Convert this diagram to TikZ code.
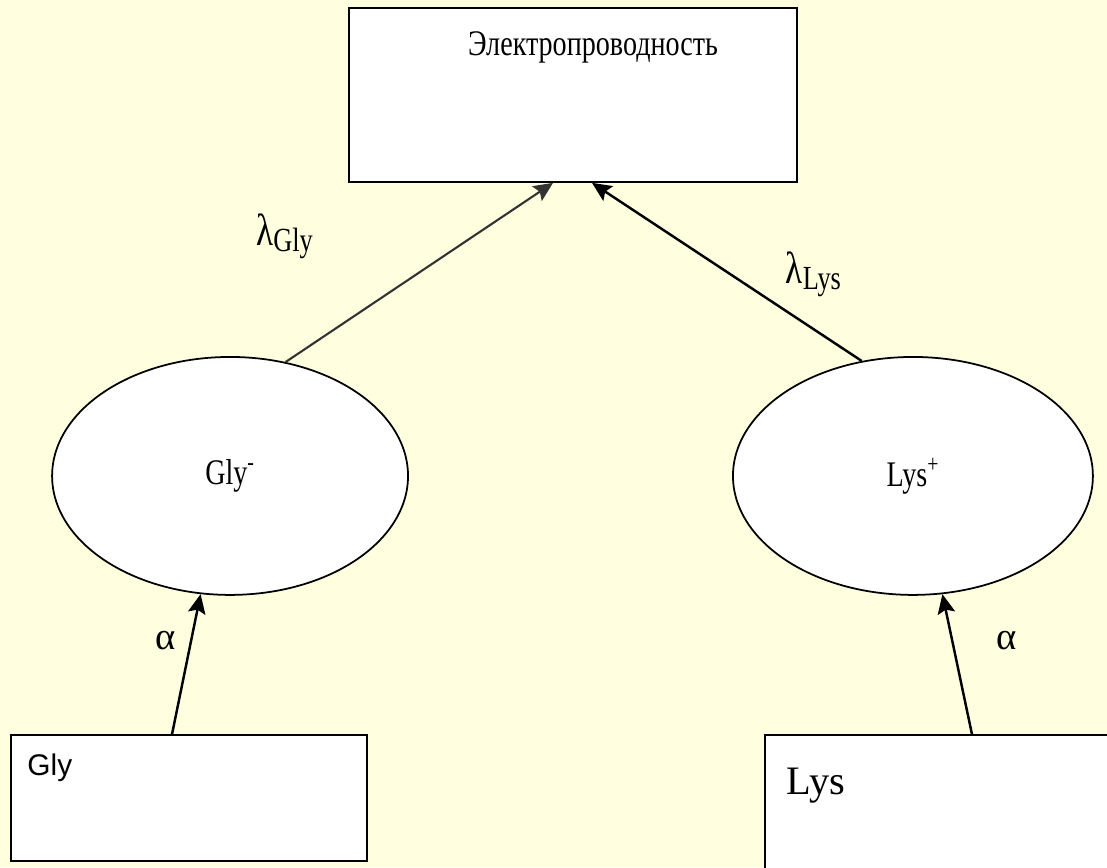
\documentclass[tikz,border=0pt]{standalone}
\usepackage{fontspec}
\usepackage{graphicx}
\setmainfont{Liberation Serif}
\newfontfamily\arialfont{Liberation Sans}
\usetikzlibrary{shapes,arrows.meta}
\definecolor{paper}{RGB}{255,255,224}
\newcommand\tallbox[1]{\scalebox{1}[1.28]{#1}}
\tikzstyle{target} = [rectangle, draw=black, line width=1pt, fill=white, minimum width=8.96cm, minimum height=3.48cm]
\tikzstyle{ion} = [ellipse, draw=black, line width=1pt, fill=white, minimum width=7.12cm, minimum height=4.76cm, font=\fontsize{16}{19}\selectfont]
\tikzstyle{source} = [rectangle, draw=black, line width=1pt, fill=white, minimum width=7.12cm, minimum height=2.52cm]
\tikzstyle{weight} = [font=\fontsize{20}{24}\selectfont]
\tikzstyle{arrow} = [line width=1.4pt, ->, >={Stealth[length=11pt,width=10pt,inset=2pt]}]
\begin{document}
\begin{tikzpicture}[x=0.02cm, y=-0.02cm, node distance=7.62cm]

\fill[paper] (0,0) rectangle (1107,867);
\useasboundingbox (0,0) rectangle (1107,867);

\node (cond) [target, label={[anchor=north, xshift=0.4cm, yshift=-0.37cm, font=\fontsize{16}{19}\selectfont]north:\tallbox{Электропроводность}}] at (573,95) {};
\node (gly) [ion, below of=cond, xshift=-6.86cm] {\tallbox{Gly\textsuperscript{-}}};
\node (lys) [ion, below of=cond, xshift=6.8cm, minimum width=7.2cm] {\tallbox{Lys\textsuperscript{+}}};
\node (glysrc) [source, below of=gly, xshift=-0.82cm, yshift=1.18cm, label={[anchor=north west, xshift=0.22cm, yshift=-0.28cm, font=\arialfont\fontsize{17}{20}\selectfont]north west:Gly}] {};
\node (lyssrc) [source, below of=lys, xshift=0.64cm, yshift=1.04cm, minimum width=7.2cm, minimum height=2.8cm, label={[anchor=north west, xshift=0.33cm, yshift=-0.55cm, font=\fontsize{23}{27}\selectfont]north west:Lys}] {};

\draw [arrow, line width=1.2pt, black!80] (gly.64) -- node[pos=0.7, left=3.06cm, weight, black] {\tallbox{λ\raisebox{-0.3ex}{\fontsize{15}{18}\selectfont Gly}}} ([xshift=-0.4cm]cond.south);
\draw [arrow] (lys.114) -- node[pos=0.28, anchor=south west, xshift=-0.15cm, yshift=0.15cm, weight] {\tallbox{λ\raisebox{-0.3ex}{\fontsize{15}{18}\selectfont Lys}}} ([xshift=0.38cm]cond.south);
\draw [arrow] ([xshift=-0.34cm]glysrc.north) -- node[pos=0.67, left=0.17cm, font=\fontsize{22}{26}\selectfont] {α} (gly.-104);
\draw [arrow] ([xshift=0.54cm]lyssrc.north) -- node[pos=0.67, right=0.74cm, font=\fontsize{22}{26}\selectfont] {α} (lys.-76);

\end{tikzpicture}
\end{document}
